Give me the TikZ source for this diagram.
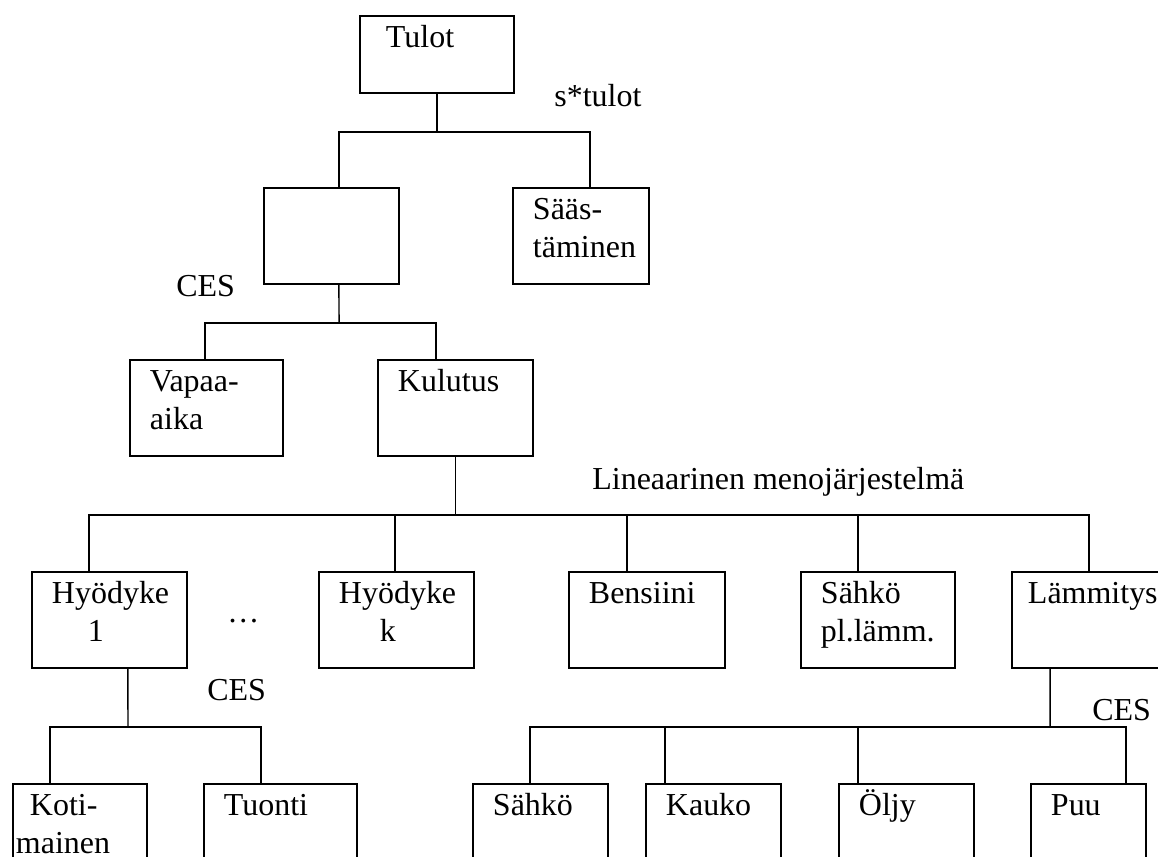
\documentclass[tikz,border=0pt]{standalone}
\usepackage{fontspec}
\setmainfont{Liberation Serif}
\usetikzlibrary{calc}
\begin{document}
\begin{tikzpicture}[x=0.02cm,y=-0.02cm,
  every node/.style={font=\fontsize{18.2}{21.6}\selectfont},
  box/.style={draw,line width=1.1pt,anchor=north west,inner xsep=0.4cm,inner ysep=0pt,
    text width={#1-0.8cm},align=left,text height=0.63cm,text depth=1.29cm},
  lab/.style={anchor=base west,inner sep=0pt},
  link/.style={line width=0.85pt}]
  \useasboundingbox (0,0) rectangle (1158,856);

  \node[box=3.08cm,text depth=0.91cm] (tulot) at (359,15) {\hspace*{0.12cm}Tulot};
  \node[box=2.7cm] (blank) at (263,187) {};
  \node[box=2.72cm] (saast) at (512,187) {Sääs-\\täminen};
  \node[box=3.06cm] (vapaa) at (129,359) {Vapaa-\\aika};
  \node[box=3.1cm] (kulutus) at (377,359) {Kulutus};
  \node[box=3.1cm] (hyod1) at (31,571) {Hyödyke\\\hspace*{0.72cm}1};
  \node[box=3.1cm] (hyodk) at (318,571) {Hyödyke\\\hspace*{0.82cm}k};
  \node[box=3.12cm] (bens) at (568,571) {Bensiini};
  \node[box=3.08cm] (sahko) at (800,571) {Sähkö\\pl.lämm.};
  \node[box=3.4cm] (lamm) at (1011,571) {\hspace*{-0.08cm}Lämmitys};
  \node[box=2.68cm] (koti) at (12,783) {\hspace*{-0.06cm}Koti-\\\hspace*{-0.34cm}mainen};
  \node[box=3.06cm] (tuonti) at (203,783) {Tuonti};
  \node[box=2.7cm] (sahko2) at (472,783) {Sähkö};
  \node[box=2.7cm] (kauko) at (645,783) {Kauko};
  \node[box=2.7cm] (oljy) at (838,783) {Öljy};
  \node[box=2.3cm] (puu) at (1030,783) {Puu};

  \node[lab] (stulot) at (554,106) {s*tulot};
  \node[lab] (ces1) at (176,296) {CES};
  \node[lab] (lin) at (592,489) {Lineaarinen menojärjestelmä};
  \node[lab] (dots) at (227,622) {…};
  \node[lab] (ces2) at (207,700) {CES};
  \node[lab] (ces3) at (1092,720) {CES};

  % junctions of the branches
  \coordinate (b1) at ($(tulot.south)+(0,38)$);
  \coordinate (b2) at ($(blank.south west)+(76,38)$);
  \coordinate (b3) at ($(kulutus.south)+(0,58)$);
  \coordinate (b4) at ($(hyod1.south west)+(97,58)$);
  \coordinate (b5) at ($(lamm.south west)+(39,58)$);

  \draw[link] (tulot.south) -- (b1);
  \draw[link] ([xshift=1.52cm]blank.north west) |- (b1) -| ([xshift=1.56cm]saast.north west);

  \draw[link] ([xshift=1.52cm]blank.south west) -- (b2);
  \draw[link] ([xshift=1.52cm]vapaa.north west) |- (b2) -| ([xshift=1.18cm]kulutus.north west);

  \draw[link] (kulutus.south) -- (b3);
  \draw[link] ([xshift=1.16cm]hyod1.north west) |- (b3) -| ([xshift=1.56cm]lamm.north west);
  \draw[link] ([xshift=1.54cm]hyodk.north west) |- (b3);
  \draw[link] ([xshift=1.18cm]bens.north west) |- (b3);
  \draw[link] ([xshift=1.16cm]sahko.north west) |- (b3);

  \draw[link] ([xshift=1.94cm]hyod1.south west) -- (b4);
  \draw[link] ([xshift=0.76cm]koti.north west) |- (b4) -| ([xshift=1.16cm]tuonti.north west);

  \draw[link] ([xshift=0.78cm]lamm.south west) -- (b5);
  \draw[link] ([xshift=1.16cm]sahko2.north west) |- (b5) -| ([xshift=1.92cm]puu.north west);
  \draw[link] ([xshift=0.4cm]kauko.north west) |- (b5);
  \draw[link] ([xshift=0.4cm]oljy.north west) |- (b5);
\end{tikzpicture}
\end{document}
